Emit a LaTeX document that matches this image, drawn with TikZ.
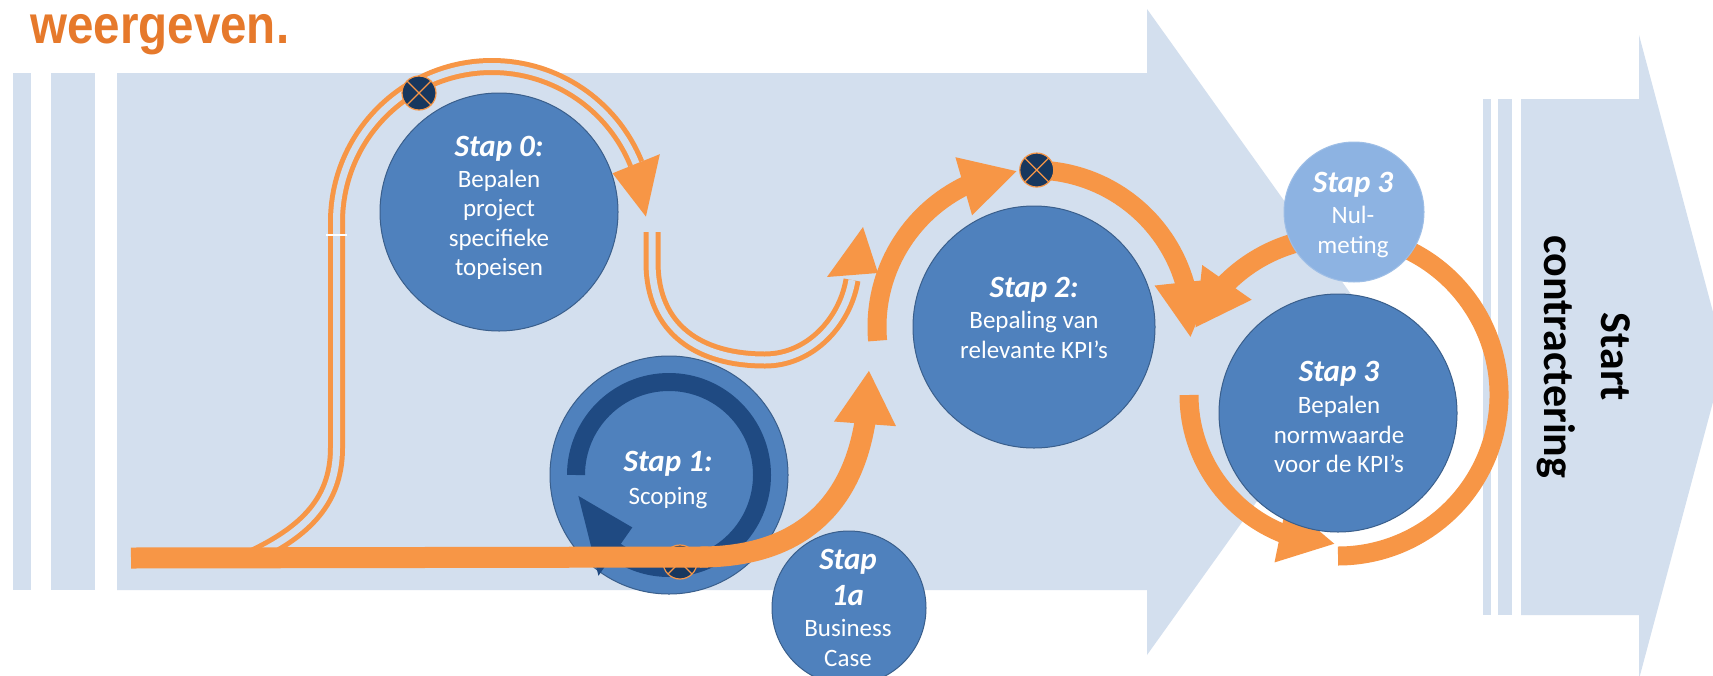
\documentclass[tikz,border=0pt]{standalone}
\usepackage{fontspec}
\setmainfont{Carlito}
\newfontfamily\titlefont{Liberation Sans}
\usepackage{graphicx}
\usetikzlibrary{arrows.meta,bending,calc}
\definecolor{bodyblue}{HTML}{D3DFEE}
\definecolor{orng}{HTML}{F79646}
\definecolor{titleorange}{HTML}{E6792B}
\definecolor{stepblue}{HTML}{4F81BD}
\definecolor{stepborder}{HTML}{3A5F8C}
\definecolor{darkring}{HTML}{1F4A82}
\definecolor{lightstep}{HTML}{8DB3E2}
\definecolor{markerblue}{HTML}{17375E}
\newcommand\stapfont{\fontsize{15.5}{15.5}\selectfont\bfseries\itshape}
\tikzset{
  stepc/.style={circle, inner sep=0pt, fill=stepblue, draw=stepborder, line width=0.5pt},
  steptxt/.style={text=white, align=center, inner sep=0pt, font=\fontsize{12.5}{14.8}\selectfont},
  thickor/.style={draw=orng, line width=10pt},
  dblor/.style={draw=orng, line width=2.5pt, double=bodyblue, double distance=3.5pt},
  ortip/.style={-{Triangle[length=28pt,width=28pt]}},
  arrowbody/.style={fill=bodyblue},
  xmark/.style={circle, minimum size=17pt, inner sep=0pt, fill=markerblue, draw=orng, line width=0.6pt,
    path picture={\draw[orng, line width=0.6pt]
      (path picture bounding box.north west) -- (path picture bounding box.south east)
      (path picture bounding box.north east) -- (path picture bounding box.south west);}}
}
\begin{document}
\begin{tikzpicture}[x=0.5pt,y=-0.5pt]
\useasboundingbox (0,0) rectangle (1713,675);
\clip (0,0) rectangle (1713,675);
\fill[white] (0,0) rectangle (1713,675);

% title
\node[anchor=base west, inner sep=0pt, text=titleorange, font=\titlefont\fontsize{27}{27}\selectfont\bfseries] (title) at (30,43) {\scalebox{0.88}[1]{weergeven.}};

% big arrow
\fill[arrowbody] (13,73) rectangle (31,590);
\fill[arrowbody] (51,73) rectangle (95,590);
\fill[arrowbody] (117,73) -- (1147,73) -- (1147,9) -- (1378,332) -- (1147,655) -- (1147,590) -- (117,590) -- cycle;

% right arrow
\fill[arrowbody] (1483,99) rectangle (1491,615);
\fill[arrowbody] (1498,99) rectangle (1512,615);
\fill[arrowbody] (1521,99) -- (1639,99) -- (1639,35) -- (1725,357) -- (1639,679) -- (1639,615) -- (1521,615) -- cycle;
\node[rotate=-90, align=center, inner sep=0pt, font=\fontsize{22}{28.5}\selectfont\bfseries] (start) at (1584,357) {Start\\contractering};

% Stap 0 path (double line)
\coordinate (c0) at (492,222);
\draw[dblor] (245,560) .. controls (300,535) and (336.5,505) .. (336.5,448) -- (336.5,222)
  arc[start angle=180, end angle=338, radius=155.5];
\draw[white, line width=0.8pt] (326,235) -- (347,235);
\fill[orng] ($(c0)+(338:130)$) -- ($(c0)+(338:181)$) -- ($(c0)+(358:154)$) -- cycle;
\node[xmark] (m0) at (419,93) {};

\draw[dblor] (652,232) -- (652,262) .. controls (652,330) and (700,360) .. (765,360)
  .. controls (810,360) and (845,322) .. (852,280);
\fill[orng] (827,277) -- (878,273) -- (863,227) -- cycle;

% Stap 0 circle
\node[stepc, minimum size=119pt] (s0) at (499,212) {};
\node[steptxt] (t0) at (499,208) {{\stapfont Stap 0:}\\[0.5pt]Bepalen\\project\\specifieke\\topeisen};

% Stap 1
\node[stepc, minimum size=119pt] (s1) at (669,475) {};
\draw[darkring, line width=9pt] (s1.center) ++(180:93) arc[start angle=180, end angle=487, radius=93];
\fill[darkring] ($(s1.center)+(485:64)$) -- ($(s1.center)+(485:123)$) -- ($(s1.center)+(527:93)$) -- cycle;
\node[xmark] (m1) at (680,562) {};
\node[steptxt] (t1) at (668,480) {{\stapfont Stap 1:}\\[1.5pt]Scoping};

% Stap 1a
\node[stepc, minimum size=77pt] (s1a) at (849,608) {};
\node[steptxt] (t1a) at (848,608) {{\stapfont Stap}\\[3pt]{\stapfont 1a}\\[1pt]Business\\Case};

% bar and curve
\draw[thickor, line width=10.5pt] (131,558) -- (708,557);
\draw[thickor, line width=10.5pt, -{Triangle[length=27pt,width=29pt]}] (700,557) .. controls (800,557) and (869,505) .. (869,370);

% Stap 2
\node[stepc, minimum size=121pt] (s2) at (1034,327) {};
\draw[thickor, line width=9.5pt, ortip] (s2.center) ++(175:157) arc[start angle=175, end angle=264, radius=157];
\draw[thickor, line width=9.5pt, ortip] (s2.center) ++(273:157) arc[start angle=273, end angle=364, radius=157];
\node[xmark] (m2) at ($(s2.center)+(271:157)$) {};
\node[steptxt] (t2) at (1034,318) {{\stapfont Stap 2:}\\[0.5pt]Bepaling van\\relevante KPI’s};

% Stap 3 ring
\coordinate (c3) at (1338,395);
\draw[thickor, line width=10pt, ortip] (c3) ++(-100:158) arc[start angle=-100, end angle=-155, radius=158];
\draw[thickor, line width=9.5pt] (c3) ++(-78:161) arc[start angle=-78, end angle=90, radius=161];
\draw[thickor, line width=9.5pt, ortip] (c3) ++(180:149) arc[start angle=180, end angle=91, radius=149];

% Stap 3 circles
\node[stepc, minimum size=119pt] (s3) at (1338,413) {};
\node[steptxt] (t3) at (1339,417) {{\stapfont Stap 3}\\[1.5pt]Bepalen\\normwaarde\\voor de KPI’s};
\node[circle, inner sep=0pt, fill=lightstep, draw=lightstep!85!white, line width=0.5pt, minimum size=70pt] (s3n) at (1354,212) {};
\node[steptxt] (t3n) at (1353,215) {{\stapfont Stap 3}\\[0.5pt]Nul-\\meting};
\end{tikzpicture}
\end{document}
